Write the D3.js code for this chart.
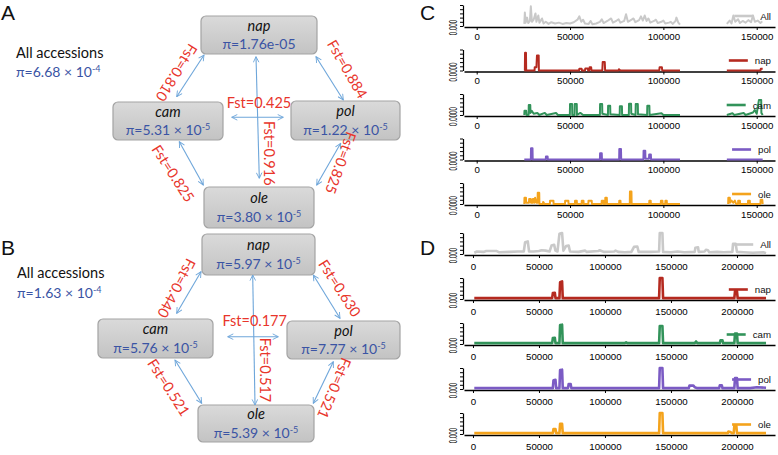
<!DOCTYPE html>
<html><head><meta charset="utf-8">
<script src="https://cdn.jsdelivr.net/npm/d3@7"></script>
<style>body{margin:0;background:#fff}svg{display:block}</style>
</head><body>
<svg id="fig" width="778" height="455"></svg>
<script>
// ---------------- DATA ----------------
const populations = ["nap", "cam", "pol", "ole"];
const piMantA = ["1.76e-05", "5.31", "1.22", "3.80"];
const piExpA  = [null, "-5", "-5", "-5"];
const piMantB = ["5.97", "5.76", "7.77", "5.39"];
const piExpB  = ["-5", "-5", "-5", "-5"];
const allPiA = ["6.68", "-4"];
const allPiB = ["1.63", "-4"];
const fstPairs = [["nap","cam"],["nap","pol"],["cam","pol"],["nap","ole"],["cam","ole"],["pol","ole"]];
const fstA = ["0.810", "0.884", "0.425", "0.916", "0.825", "0.825"];
const fstB = ["0.440", "0.630", "0.177", "0.517", "0.521", "0.521"];

const seriesNames = ["All", "nap", "cam", "pol", "ole"];
const xTicksC = [0, 50000, 100000, 150000];
const xTicksD = [0, 50000, 100000, 150000, 200000];

// Panel C: [position, pi]; null = gap
const cAll = [[25500,0.0005],[25800,0.0032],[26200,0.0008],[27000,0.002],[27600,0.0007],[28500,0.0012],[29000,0.0047],[29600,0.0010],[30500,0.0015],[31500,0.003],[32000,0.0010],[33000,0.0025],[33600,0.0008],[35000,0.0018],[35800,0.0006],[37000,0.0010],[38500,0.0005],[40000,0.0009],[42000,0.0006],[44000,0.0008],[46000,0.0005],[48000,0.0007],[50000,0.0006],[52000,0.0009],[54000,0.0015],[55000,0.0023],[56000,0.0010],[57000,0.0015],[58000,0.0006],[60000,0.0005],[61000,0.0012],[62000,0.0004],[64000,0.0006],[66000,0.0010],[67000,0.0016],[68000,0.0007],[70000,0.0012],[72000,0.0018],[73000,0.0008],[75000,0.0013],[76000,0.0016],[77000,0.0008],[79000,0.0012],[80000,0.0028],[81000,0.0010],[83000,0.0015],[84000,0.0018],[85000,0.0009],[87000,0.0014],[88000,0.0023],[89000,0.0013],[90000,0.0025],[91000,0.0012],[92000,0.0018],[93000,0.0008],[95000,0.0012],[96000,0.0015],[97000,0.0007],[99000,0.0010],[100000,0.0013],[101000,0.0006],[103000,0.0008],[104000,0.0010],[105000,0.0005],[106500,0.0012],[107000,0.0020],[108000,0.0008],[108900,0.0003],null,[134000,0.0005],[135500,0.0013],[136500,0.0006],[137500,0.0025],[138500,0.0010],[140000,0.0016],[141000,0.0007],[142500,0.0012],[144000,0.0008],[145500,0.0014],[147000,0.0009],[148000,0.0025],[149000,0.0010],[150500,0.0013],[152000,0.0007],[153000,0.0011]];
const cNap = [[25500,0],[25800,0],[25900,0.00042],[26400,0.00042],[26500,0],[31000,0],[31100,0.00008],[32000,0.00008],[32300,0.00036],[33200,0.00036],[33300,0],[54800,0],[55000,0.00004],[56200,0.00004],[56400,0],[58000,0],[58200,0.00005],[59500,0.00005],[59700,0],[60300,0],[60500,0.00008],[61300,0.00008],[61500,0],[67300,0],[67500,0.0002],[68600,0.0002],[68800,0],[76000,0],[76200,0.00003],[77000,0],[97800,0],[98000,0.00008],[99200,0.00008],[99400,0],[108900,0],null,[134000,0],[152000,0],[152200,0.00004],[153200,0.00004]];
const cCam = [[25500,0],[25600,0.0001],[26500,0.0001],[26700,0],[27800,0],[27900,0.00024],[28700,0.00024],[28800,0.00005],[29500,0.0001],[30500,0.00003],[32500,0.00005],[33500,0],[36500,0.00005],[37500,0],[42500,0.00005],[43500,0],[49900,0],[50000,0.00026],[51100,0.00026],[51200,0],[52400,0],[52500,0.00026],[53600,0.00026],[53700,0],[55500,0.00005],[57000,0],[66000,0],[66100,0.00026],[67200,0.00026],[67300,0.00003],[70300,0],[70400,0.00022],[71500,0.00022],[71600,0.00002],[76600,0],[76700,0.00021],[77800,0.00021],[77900,0],[81500,0],[81600,0.00027],[82700,0.00027],[82800,0.00003],[85100,0],[85200,0.00026],[86300,0.00026],[86400,0.00002],[91300,0],[91400,0.00022],[92500,0.00022],[92600,0],[99000,0.00004],[100000,0],[108900,0],null,[134000,0],[137000,0.00004],[138000,0],[143000,0.00005],[144000,0],[148000,0.00006],[149000,0.00012],[150000,0.00003],[151200,0.00036],[152400,0.00036],[152500,0.00005],[153200,0]];
const cPol = [[25500,0],[29000,0],[29100,0.00027],[29900,0.00027],[30000,0],[37000,0],[37100,0.00007],[38000,0.00007],[38100,0],[66000,0],[66100,0.00015],[67000,0.00015],[67100,0],[76300,0],[76400,0.00025],[77300,0.00025],[77400,0],[89300,0],[89400,0.00021],[90300,0.00021],[90400,0.00002],[92300,0.00002],[92400,0.00012],[93300,0.00012],[93400,0],[108900,0],null,[134000,0],[153200,0]];
const cOle = [[25500,0],[25600,0.00015],[26400,0.00015],[26500,0.00003],[28000,0.00003],[28100,0.00012],[29000,0.00012],[29100,0.00003],[30000,0.00003],[30100,0.00012],[30800,0.00012],[30900,0.00003],[31300,0.00015],[32000,0.00003],[32600,0.00003],[32700,0.00027],[33500,0.00027],[33600,0],[35500,0],[35600,0.00005],[36300,0],[39200,0],[39300,0.00008],[41100,0.00008],[41200,0],[47300,0],[47400,0.00008],[49100,0.00008],[49200,0],[52600,0],[52700,0.00008],[53600,0.00008],[53700,0],[56200,0],[56300,0.00008],[57200,0.00008],[57300,0],[59800,0],[59900,0.00008],[61600,0.00008],[61700,0],[66900,0],[67000,0.00008],[67900,0.00008],[68000,0],[68800,0],[68900,0.00015],[69700,0.00015],[69800,0],[76300,0],[76400,0.00008],[77000,0.00008],[77100,0],[82000,0],[82100,0.0003],[82900,0.0003],[83000,0],[92400,0],[92500,0.00008],[93200,0.00008],[93300,0],[98600,0],[98700,0.00008],[99500,0.00008],[99600,0],[101000,0],[101100,0.00008],[101800,0.00008],[101900,0],[108900,0],null,[134700,0],[134800,0.00015],[135600,0.00015],[135700,0.00003],[136500,0.00008],[137500,0.00003],[138300,0.00008],[139000,0],[140000,0],[140100,0.00008],[141000,0.00008],[141100,0],[145300,0],[145400,0.00008],[146300,0.00008],[146400,0],[152000,0],[152100,0.0001],[153000,0.0001],[153200,0]];

// Panel D
const dAll = [[1000,0.0003],[3000,0.0006],[8000,0.0005],[10000,0.0007],[18000,0.0007],[20000,0.0004],[28000,0.0005],[34000,0.0006],[38500,0.0006],[39500,0.0028],[41500,0.0030],[42500,0.0006],[46000,0.0006],[50000,0.0007],[52000,0.0009],[55000,0.0008],[58000,0.0006],[59500,0.0020],[61500,0.0022],[62500,0.0008],[64000,0.0006],[65500,0.0048],[67500,0.005],[68500,0.0008],[70500,0.0019],[72500,0.0020],[73500,0.0006],[80000,0.0005],[85000,0.0008],[86000,0.0005],[95000,0.0007],[96000,0.0009],[99000,0.0005],[107000,0.0006],[108000,0.0008],[110000,0.0005],[115000,0.0004],[120000,0.0005],[122000,0.0017],[124500,0.0018],[125500,0.0005],[134000,0.0005],[141000,0.0006],[141500,0.005],[143500,0.005],[144000,0.0005],[150000,0.0004],[155000,0.0006],[160000,0.0004],[168000,0.0005],[168500,0.0015],[170500,0.0016],[171000,0.0005],[175500,0.0006],[176500,0.0010],[178000,0.0009],[179000,0.0004],[185000,0.0005],[190000,0.0004],[196500,0.0005],[197000,0.0024],[199000,0.0024],[200000,0.0005],[205000,0.0004],[212000,0.0003],[220000,0.0004],[222000,0.0002]];
const dNap = [[1000,0.0002],[60000,0.0002],[60500,0.0014],[62000,0.0015],[62500,0.0002],[65500,0.0002],[66000,0.0040],[67500,0.0042],[68000,0.0002],[141000,0.0002],[141500,0.0050],[143500,0.0050],[144000,0.0002],[198000,0.0002],[198500,0.0019],[200000,0.0019],[200500,0.0002],[222000,0.0002]];
const dCam = [[1000,0.0002],[60000,0.0002],[60500,0.0014],[62000,0.0015],[62500,0.0002],[65500,0.0002],[66000,0.0045],[67500,0.0046],[68000,0.0002],[115000,0.0002],[116000,0.0004],[117000,0.0002],[141000,0.0002],[141500,0.0043],[143500,0.0043],[144000,0.0002],[168000,0.0002],[169000,0.0006],[170000,0.0002],[187000,0.0002],[187500,0.0009],[189000,0.0009],[189500,0.0002],[198000,0.0002],[198500,0.0025],[200000,0.0025],[200500,0.0002],[222000,0.0002]];
const dPol = [[1000,0.0002],[60500,0.0002],[61000,0.0021],[62500,0.0022],[63000,0.0002],[65500,0.0002],[66000,0.0045],[67500,0.0046],[68000,0.0002],[72000,0.0002],[72500,0.0012],[74000,0.0012],[74500,0.0002],[141000,0.0002],[141500,0.0050],[143500,0.0050],[144000,0.0002],[163500,0.0002],[164000,0.0008],[167000,0.0008],[168000,0.0004],[170000,0.0002],[186500,0.0002],[187000,0.0009],[188500,0.0009],[189000,0.0002],[198000,0.0002],[198500,0.0026],[200000,0.0026],[200500,0.0002],[210000,0.0002],[215000,0.0004],[222000,0.0003]];
const dOle = [[1000,0.0002],[60500,0.0002],[61000,0.0012],[62500,0.0012],[63000,0.0002],[65500,0.0002],[66000,0.0024],[67500,0.0024],[68000,0.0002],[141000,0.0002],[141500,0.0050],[143500,0.0050],[144000,0.0002],[193000,0.0002],[193500,0.0006],[195000,0.0005],[196000,0.0002],[197500,0.0002],[198000,0.0020],[199500,0.0020],[200000,0.0002],[222000,0.0002]];

const seriesColors = ["#c9c9c9", "#b52a20", "#32935a", "#7b5bc4", "#f4a31c"];

// ---------------- DRAW ----------------
const svg = d3.select("#fig");
const BLUE = "#3a54a4", RED = "#e8352b", ARROW = "#6ea6da";
const FONT_AB = "Lato, 'Open Sans', sans-serif";
const FONT_CD = "'Liberation Sans', Arial, sans-serif";

const defs = svg.append("defs");
const grad = defs.append("linearGradient").attr("id", "boxg").attr("x1",0).attr("y1",0).attr("x2",0).attr("y2",1);
grad.append("stop").attr("offset","0%").attr("stop-color","#dadada");
grad.append("stop").attr("offset","100%").attr("stop-color","#c3c3c3");
defs.append("marker").attr("id","ah").attr("viewBox","0 0 10 10").attr("refX",9).attr("refY",5)
  .attr("markerWidth",7).attr("markerHeight",7).attr("markerUnits","userSpaceOnUse").attr("orient","auto-start-reverse")
  .append("path").attr("d","M1,1 L9,5 L1,9").attr("fill","none").attr("stroke",ARROW).attr("stroke-width",1.3);

const layoutA = {
  letter: ["A", 1, 20],
  all: [16, 58, 77],
  boxes: {nap:[201,16,116,38], cam:[113,102,110,38], pol:[291,101,109,39], ole:[204,187,110,41]},
  arrows: [[204,55,176.7,96.7],[316,56.7,343.3,100],[231.7,117.3,283.3,117.3],[256,56.7,259.3,178.3],[179.3,141.7,203.3,185],[340.7,143.3,316.7,185]],
  labels: [[176.7,72.7,122],[347.5,69,60],[259,102.5,0],[269.3,153.3,90],[173.3,173.3,57],[341,163,110]]
};
const layoutB = {
  letter: ["B", 1, 255],
  all: [17, 278.3, 298.3],
  boxes: {nap:[202,234,113,41], cam:[98,319,115,39], pol:[287,321,113,38], ole:[198,405,116,37]},
  arrows: [[201,271.7,176.7,313.3],[313.3,275,340,318.3],[227.7,336.7,278.3,336.7],[252.7,275,255,405],[175,360,201.7,403.3],[333.3,361.7,313.3,403.3]],
  labels: [[176.7,288.3,118],[340,288,57],[254.7,320.2,0],[265,370,90],[169,387.3,57],[334.5,388.3,113]]
};

function piText(g, x, y, mant, exp, anchor) {
  const t = g.append("text").attr("x", x).attr("y", y).attr("text-anchor", anchor)
    .attr("fill", BLUE).style("font-size", "14px").style("font-family", FONT_AB);
  if (exp === null) { t.text("π=" + mant); return; }
  t.append("tspan").text("π=" + mant + " × 10");
  t.append("tspan").attr("dy", -5).style("font-size", "9px").text(exp);
}

function drawNetwork(L, mants, exps, allPi, fst) {
  const g = svg.append("g");
  g.append("text").attr("x", L.letter[1]).attr("y", L.letter[2]).text(L.letter[0])
    .style("font-size", "21px").style("font-family", FONT_CD).attr("fill", "#111");
  g.append("text").attr("x", L.all[0]).attr("y", L.all[1]).text("All accessions")
    .style("font-size", "14.5px").style("font-family", FONT_AB).attr("fill", "#111");
  piText(g, L.all[0], L.all[2], allPi[0], allPi[1], "start");
  populations.forEach((p, i) => {
    const [x, y, w, h] = L.boxes[p];
    g.append("rect").attr("x", x).attr("y", y).attr("width", w).attr("height", h).attr("rx", 5)
      .attr("fill", "url(#boxg)").attr("stroke", "#a3a3a3").attr("stroke-width", 1.2);
    const cx = x + w / 2, cy = y + h / 2;
    g.append("text").attr("x", cx).attr("y", cy - 4.5).attr("text-anchor", "middle").text(p)
      .style("font-size", "14.5px").style("font-style", "italic").style("font-family", FONT_AB).attr("fill", "#111");
    piText(g, cx, cy + 14, mants[i], exps[i], "middle");
  });
  fstPairs.forEach((pair, i) => {
    const a = L.arrows[i];
    g.append("line").attr("x1", a[0]).attr("y1", a[1]).attr("x2", a[2]).attr("y2", a[3])
      .attr("stroke", ARROW).attr("stroke-width", 1.1)
      .attr("marker-start", "url(#ah)").attr("marker-end", "url(#ah)");
  });
  fstPairs.forEach((pair, i) => {
    const l = L.labels[i];
    g.append("text").attr("transform", `translate(${l[0]},${l[1]}) rotate(${l[2]})`)
      .attr("text-anchor", "middle").attr("dominant-baseline", "central")
      .text("Fst=" + fst[i]).attr("fill", RED).style("font-size", "14.5px").style("font-family", FONT_AB);
  });
}
drawNetwork(layoutA, piMantA, piExpA, allPiA, fstA);
drawNetwork(layoutB, piMantB, piExpB, allPiB, fstB);

// ---- strip plots ----
function strip(o) {
  const g = svg.append("g");
  const y = d3.scaleLinear().domain([0, o.yMax]).range([o.base - 1, o.base - 22]);
  const gx = g.append("g").attr("transform", `translate(0,${o.base})`)
    .call(d3.axisBottom(o.x).tickValues(o.ticks).tickSize(3).tickSizeOuter(0).tickPadding(o.pad).tickFormat(d3.format("d")));
  gx.select(".domain").attr("stroke-width", 1.4);
  gx.selectAll("text").style("font-size", "9.7px").style("font-family", FONT_CD);
  const yt = d3.range(6).map(i => i * o.yMax / 5);
  const gy = g.append("g").attr("transform", `translate(463,0)`)
    .call(d3.axisLeft(y).tickValues(yt).tickSize(3).tickSizeOuter(0).tickFormat(d => d === 0 ? o.yFmt(d) : ""));
  gy.select(".domain").attr("stroke-width", 1.2);
  gy.selectAll("text").filter(d => d === 0)
    .attr("x", null).attr("dy", null).attr("text-anchor", "middle").attr("dominant-baseline", "central")
    .attr("transform", `translate(-10,1) rotate(-90) scale(0.62,1)`)
    .style("font-size", "10px").style("font-family", FONT_CD);
  const line = d3.line().defined(d => d !== null).x(d => o.x(d[0])).y(d => y(d[1]));
  g.append("path").datum(o.data).attr("d", line).attr("fill", "none")
    .attr("stroke", o.color).attr("stroke-width", o.lw).attr("stroke-linejoin", "round");
  // legend
  const t = g.append("text").attr("x", 771).attr("y", o.base - o.legDy).attr("text-anchor", "end")
    .attr("dominant-baseline", "central").text(o.name).style("font-size", "9.7px").style("font-family", FONT_CD).attr("fill", "#111");
  const tw = t.node().getComputedTextLength();
  const xs = 771 - tw;
  g.append("line").attr("x1", xs - 26).attr("x2", xs - 7).attr("y1", o.base - o.legDy).attr("y2", o.base - o.legDy)
    .attr("stroke", o.color).attr("stroke-width", 2.6);
}

const xC = d3.scaleLinear().domain([-6800, 159800]).range([464, 775]);
const xD = d3.scaleLinear().domain([-6800, 228800]).range([464, 775]);
const cData = [cAll, cNap, cCam, cPol, cOle];
const dData = [dAll, dNap, dCam, dPol, dOle];
const cBases = [27, 71.5, 116, 160.5, 205];
const dBases = [255, 300, 345, 390, 435];

svg.append("text").attr("x", 420).attr("y", 19.5).text("C").style("font-size", "21px").style("font-family", FONT_CD).attr("fill", "#111");
svg.append("text").attr("x", 420).attr("y", 254.5).text("D").style("font-size", "21px").style("font-family", FONT_CD).attr("fill", "#111");

seriesNames.forEach((name, i) => {
  strip({ name, data: cData[i], color: seriesColors[i], base: cBases[i], x: xC, ticks: xTicksC,
          yMax: i === 0 ? 0.005 : 0.0005, yFmt: i === 0 ? d3.format(".3f") : d3.format(".4f"),
          lw: 2, pad: 3, legDy: 11 });
  strip({ name, data: dData[i], color: seriesColors[i], base: dBases[i], x: xD, ticks: xTicksD,
          yMax: 0.005, yFmt: d3.format(".3f"), lw: 2.6, pad: 5, legDy: 10.5 });
});
</script>
</body></html>
